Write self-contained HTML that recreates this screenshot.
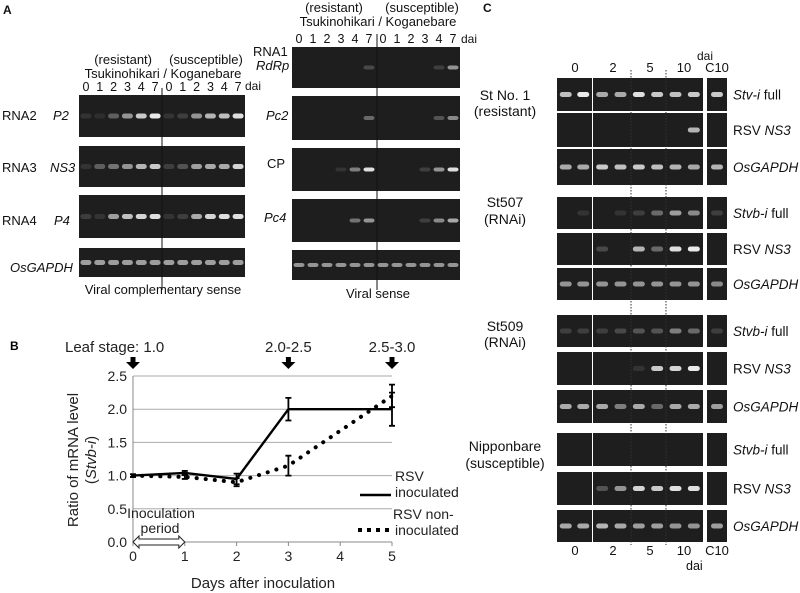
<!DOCTYPE html>
<html><head><meta charset="utf-8"><style>
html,body{margin:0;padding:0;background:#fff;}
body{width:800px;height:593px;position:relative;overflow:hidden;font-family:"Liberation Sans",Arial,sans-serif;}
svg{position:absolute;left:0;top:0;}
</style></head><body>
<svg id="fig" width="800" height="593" viewBox="0 0 800 593" font-family="Liberation Sans, Arial, sans-serif">
<g id="gels"></g>
<g id="txt" fill="#111">
<text x="3" y="14" font-size="12" font-weight="bold">A</text>
<text x="152" y="64" font-size="13" text-anchor="end">(resistant)</text>
<text x="206" y="64" font-size="13" text-anchor="middle">(susceptible)</text>
<text x="163" y="78" font-size="13" text-anchor="middle">Tsukinohikari / Koganebare</text>
<text x="245" y="90" font-size="12">dai</text>
<text x="2" y="120" font-size="13">RNA2</text>
<text x="53" y="120" font-size="13" font-style="italic">P2</text>
<text x="2" y="172" font-size="13">RNA3</text>
<text x="50" y="172" font-size="13" font-style="italic">NS3</text>
<text x="2" y="225" font-size="13">RNA4</text>
<text x="54" y="225" font-size="13" font-style="italic">P4</text>
<text x="10" y="272" font-size="13" font-style="italic">OsGAPDH</text>
<text x="163" y="294" font-size="13" text-anchor="middle">Viral complementary sense</text>
<text x="334" y="12" font-size="13" text-anchor="middle">(resistant)</text>
<text x="422" y="12" font-size="13" text-anchor="middle">(susceptible)</text>
<text x="378" y="26" font-size="13" text-anchor="middle">Tsukinohikari / Koganebare</text>
<text x="461" y="43" font-size="12">dai</text>
<text x="253" y="56" font-size="13">RNA1</text>
<text x="256" y="70" font-size="13" font-style="italic">RdRp</text>
<text x="266" y="120" font-size="13" font-style="italic">Pc2</text>
<text x="267" y="168" font-size="13">CP</text>
<text x="264" y="222" font-size="13" font-style="italic">Pc4</text>
<text x="378" y="298" font-size="13" text-anchor="middle">Viral sense</text>
<text x="483" y="12" font-size="12" font-weight="bold">C</text>
<text x="697" y="60" font-size="12">dai</text>
<text x="505" y="100" font-size="14" text-anchor="middle">St No. 1</text>
<text x="505" y="116" font-size="14" text-anchor="middle">(resistant)</text>
<text x="505" y="207" font-size="14" text-anchor="middle">St507</text>
<text x="505" y="224" font-size="14" text-anchor="middle">(RNAi)</text>
<text x="505" y="331" font-size="14" text-anchor="middle">St509</text>
<text x="505" y="347" font-size="14" text-anchor="middle">(RNAi)</text>
<text x="505" y="451" font-size="14" text-anchor="middle">Nipponbare</text>
<text x="505" y="468" font-size="14" text-anchor="middle">(susceptible)</text>
</g>
<g id="chartB"></g>
</svg>
<script>
// ---------- chart B data ----------
const days = [0, 1, 2, 3, 5];
const inoculated = [1.0, 1.04, 0.95, 2.0, 2.0];
const inoculatedErr = [0.02, 0.03, 0.08, 0.17, 0.25];
const nonInoculated = [1.0, 0.98, 0.9, 1.15, 2.2];
const nonInoculatedErr = [0.02, 0.03, 0.06, 0.15, 0.17];
const yTicks = [0.0, 0.5, 1.0, 1.5, 2.0, 2.5];
const yTickLabels = ["0.0", "0.5", "1.0", "1.5", "2.0", "2.5"];
const xTicks = [0, 1, 2, 3, 4, 5];
const leafDays = [0, 3, 5];
const leafLabels = ["Leaf stage: 1.0", "2.0-2.5", "2.5-3.0"];

const NS = "http://www.w3.org/2000/svg";
function mk(tag, attrs, parent, text) {
  const e = document.createElementNS(NS, tag);
  for (const k in attrs) e.setAttribute(k, attrs[k]);
  if (text !== undefined) e.textContent = text;
  parent.appendChild(e);
  return e;
}
const B = document.getElementById('chartB');
const X0 = 133, X1 = 392, Y0 = 542, Y1 = 376;
const xs = d => X0 + (X1 - X0) * d / 5;
const ys = v => Y0 - (Y0 - Y1) * v / 2.5;

let t = mk('text', {x: 10, y: 350, 'font-size': 12, 'font-weight': 'bold'}, B, 'B');



yTicks.forEach((v, i) => {
  if (v > 0) {
    const g = mk('line', {x1: X0, x2: X1, y1: ys(v), y2: ys(v), stroke: '#aaa', 'stroke-width': 1}, B);
    
    
  }
  const tl = mk('text', {x: 127, y: ys(v) + 5, 'font-size': 14, 'text-anchor': 'end', fill: '#222'}, B, yTickLabels[i]);
  
  
});
let ax = mk('line', {x1: X0, x2: X0, y1: Y1, y2: Y0, stroke: '#888'}, B);


let axx = mk('line', {x1: X0, x2: X1, y1: Y0, y2: Y0, stroke: '#888'}, B);


xTicks.forEach(d => {
  const tk = mk('line', {x1: xs(d), x2: xs(d), y1: Y0, y2: Y0 + 4, stroke: '#888'}, B);
  
  
  const tl = mk('text', {x: xs(d), y: 561, 'font-size': 14, 'text-anchor': 'middle', fill: '#222'}, B, String(d));
  
  
});
let xt = mk('text', {x: 263, y: 588, 'font-size': 15, 'text-anchor': 'middle', fill: '#222'}, B, 'Days after inoculation');


let yt = mk('text', {x: 0, y: 0, 'font-size': 15, 'text-anchor': 'middle', fill: '#222', transform: 'translate(78,460) rotate(-90)'}, B, 'Ratio of mRNA level');


let yt2 = mk('text', {x: 0, y: 0, 'font-size': 15, 'text-anchor': 'middle', fill: '#222', transform: 'translate(96,460) rotate(-90)'}, B);


mk('tspan', {}, yt2, '(');
mk('tspan', {'font-style': 'italic'}, yt2, 'Stvb-i');
mk('tspan', {}, yt2, ')');

leafDays.forEach((d, i) => {
  const x = xs(d);
  const lt = mk('text', {x: x, y: 352, 'font-size': 15, 'text-anchor': 'middle', fill: '#222'}, B, leafLabels[i]);
  if (i === 0) { lt.setAttribute('x', 65); lt.setAttribute('text-anchor', 'start'); }
  
  
  const ar = mk('path', {d: `M${x-2.5},357 h5 v5 h4.5 l-7,7 l-7,-7 h4.5 z`, fill: '#000'}, B);
  
  
});

let ip1 = mk('text', {x: 161, y: 518, 'font-size': 14, 'text-anchor': 'middle', fill: '#222'}, B, 'Inoculation');


let ip2 = mk('text', {x: 160, y: 533, 'font-size': 14, 'text-anchor': 'middle', fill: '#222'}, B, 'period');


let da = mk('path', {d: `M${xs(0)},542 l6,-6 v3 h${xs(1)-xs(0)-12} v-3 l6,6 l-6,6 v-3 h-${xs(1)-xs(0)-12} v3 z`, fill: '#fff', stroke: '#222', 'stroke-width': 1}, B);



function pts(arr) { return days.map((d, i) => xs(d) + ',' + ys(arr[i])).join(' '); }
let sNon = mk('polyline', {points: pts(nonInoculated), fill: 'none', stroke: '#000', 'stroke-width': 4, 'stroke-dasharray': '0.1 9', 'stroke-linecap': 'round'}, B);


let sIn = mk('polyline', {points: pts(inoculated), fill: 'none', stroke: '#000', 'stroke-width': 2.4}, B);


function errs(arr, err, name) {
  days.forEach((d, i) => {
    const x = xs(d), a = ys(arr[i] + err[i]), b = ys(arr[i] - err[i]);
    const e = mk('path', {d: `M${x},${a} V${b} M${x-3},${a} h6 M${x-3},${b} h6`, stroke: '#000', 'stroke-width': 1.8, fill: 'none'}, B);
    
    
  });
}
errs(inoculated, inoculatedErr, 'error-bar-inoculated');
errs(nonInoculated, nonInoculatedErr, 'error-bar-non-inoculated');

const lg = mk('g', {}, B);


mk('text', {x: 395, y: 481, 'font-size': 14, fill: '#222'}, lg, 'RSV');
mk('text', {x: 395, y: 497, 'font-size': 14, fill: '#222'}, lg, 'inoculated');
mk('line', {x1: 360, x2: 391, y1: 495, y2: 495, stroke: '#000', 'stroke-width': 2.5}, lg);
mk('text', {x: 393, y: 519, 'font-size': 14, fill: '#222'}, lg, 'RSV non-');
mk('text', {x: 395, y: 535, 'font-size': 14, fill: '#222'}, lg, 'inoculated');
mk('line', {x1: 358, x2: 392, y1: 530, y2: 530, stroke: '#000', 'stroke-width': 4, 'stroke-dasharray': '4 5'}, lg);

// ---------- gels ----------
const G = document.getElementById('gels');
function gel(x, y, w, h, lanes, ints, name, bandY, bw, bh) {
  const g = mk('g', {}, G);
  
  
  mk('rect', {x, y, width: w, height: h, fill: '#1e1e1e'}, g);
  const lw = w / lanes;
  ints.forEach((v, i) => {
    if (v <= 0) return;
    const c = Math.round(40 + 215 * v);
    mk('rect', {x: x + lw * i + (lw - bw) / 2, y: y + h * bandY - bh / 2, width: bw, height: bh, rx: 2.5, fill: `rgb(${c},${c},${c})`}, g);
  });
  return g;
}
const AL = [[95, 42, [0.05,0.03,0.25,0.5,0.75,0.9, 0.05,0.1,0.5,0.65,0.7,0.85], 'gel-a-p2'],
            [146, 41, [0.05,0.25,0.35,0.5,0.65,0.75, 0.1,0.2,0.55,0.6,0.6,0.8], 'gel-a-ns3'],
            [195, 43, [0.1,0.05,0.55,0.7,0.8,0.85, 0.05,0.1,0.6,0.8,0.85,0.85], 'gel-a-p4'],
            [248, 29, [0.55,0.55,0.55,0.55,0.55,0.55,0.55,0.55,0.55,0.55,0.55,0.55], 'gel-a-gapdh-1']];
AL.forEach(r => gel(79, r[0], 166, r[1], 12, r[2], r[3], 0.5, 11, 5));
const AR = [[47, 41, [0,0,0,0,0,0.15, 0,0,0,0,0.1,0.5], 'gel-a-rdrp'],
            [96, 44, [0,0,0,0,0,0.3, 0,0,0,0,0.2,0.45], 'gel-a-pc2'],
            [148, 43, [0,0,0,0.05,0.4,0.85, 0,0,0,0.1,0.5,0.85], 'gel-a-cp'],
            [199, 43, [0,0,0,0,0.35,0.5, 0,0,0,0.1,0.45,0.6], 'gel-a-pc4'],
            [250, 30, [0.5,0.5,0.5,0.5,0.5,0.5,0.5,0.5,0.5,0.5,0.5,0.5], 'gel-a-gapdh-2']];
AR.forEach(r => gel(292, r[0], 168, r[1], 12, r[2], r[3], 0.5, 11, 4));
[[162, 88, 290], [377, 34, 290]].forEach(d => {
  const l = mk('line', {x1: d[0], x2: d[0], y1: d[1], y2: d[2], stroke: '#111', 'stroke-width': 1}, G);
  
  
});
const laneLbl = ['0','1','2','3','4','7','0','1','2','3','4','7'];
[[79, 166, 91], [292, 168, 43]].forEach(p => {
  laneLbl.forEach((s, i) => {
    const tx = mk('text', {x: p[0] + p[1] / 12 * (i + 0.5), y: p[2], 'font-size': 12.5, 'text-anchor': 'middle', fill: '#111'}, G, s);
    
    
  });
});
const CR = [
  [78, 33, [0.7,0.9], [0.6,0.6,0.85,0.75,0.7,0.75], [0.75], 'full', 'Stv-i'],
  [113, 34, [0,0], [0,0,0,0,0,0.65], [0], 'RSV NS3'],
  [149, 36, [0.6,0.6], [0.75,0.7,0.75,0.7,0.65,0.6], [0.65], 'OsGAPDH'],
  [197, 32, [0,0.05], [0,0.05,0.1,0.3,0.55,0.45], [0.1], 'full', 'Stvb-i'],
  [233, 32, [0,0], [0.15,0,0.65,0.3,0.85,0.9], [0], 'RSV NS3'],
  [268, 32, [0.5,0.5], [0.5,0.5,0.5,0.5,0.5,0.5], [0.45], 'OsGAPDH'],
  [315, 32, [0.1,0.1], [0.1,0.15,0.2,0.2,0.4,0.3], [0.1], 'full', 'Stvb-i'],
  [352, 33, [0,0], [0,0,0.05,0.75,0.8,0.9], [0], 'RSV NS3'],
  [390, 33, [0.6,0.6], [0.6,0.4,0.6,0.3,0.6,0.6], [0.55], 'OsGAPDH'],
  [433, 33, [0,0], [0,0,0,0,0,0], [0], 'full', 'Stvb-i'],
  [472, 33, [0,0], [0.2,0.5,0.8,0.75,0.85,0.85], [0], 'RSV NS3'],
  [510, 32, [0.6,0.6], [0.65,0.6,0.55,0.55,0.5,0.5], [0.55], 'OsGAPDH']
];
CR.forEach((r, i) => {
  gel(557, r[0], 35, r[1], 2, r[2], 'gel-c-block1-row' + i, 0.5, 12, 5);
  gel(593, r[0], 110, r[1], 6, r[3], 'gel-c-block2-row' + i, 0.5, 12, 5);
  gel(707, r[0], 20, r[1], 1, r[4], 'gel-c-block3-row' + i, 0.5, 12, 5);
  const cy = r[0] + r[1] / 2 + 5;
  const lab = mk('text', {x: 733, y: cy, 'font-size': 13.5, fill: '#111'}, G);
  
  
  if (r[5] === 'RSV NS3') { mk('tspan', {}, lab, 'RSV '); mk('tspan', {'font-style': 'italic'}, lab, 'NS3'); }
  else if (r[5] === 'OsGAPDH') { mk('tspan', {'font-style': 'italic'}, lab, 'OsGAPDH'); }
  else { mk('tspan', {'font-style': 'italic'}, lab, r[6]); mk('tspan', {}, lab, ' full'); }
});
[631, 666].forEach(x => {
  const l = mk('line', {x1: x, x2: x, y1: 70, y2: 545, stroke: '#333', 'stroke-width': 1, 'stroke-dasharray': '1.5 1.5'}, G);
  
  
});
const cLanes = ['0', '2', '5', '10', 'C10'];
const cLaneX = [575, 613, 650, 684, 717];
[[72], [555]].forEach(p => cLanes.forEach((s, i) => {
  const tx = mk('text', {x: cLaneX[i], y: p[0], 'font-size': 13, 'text-anchor': 'middle', fill: '#111'}, G, s);
  
  
}));
const dai2 = mk('text', {x: 686, y: 570, 'font-size': 12.5, fill: '#111'}, G, 'dai');


</script>
</body></html>
